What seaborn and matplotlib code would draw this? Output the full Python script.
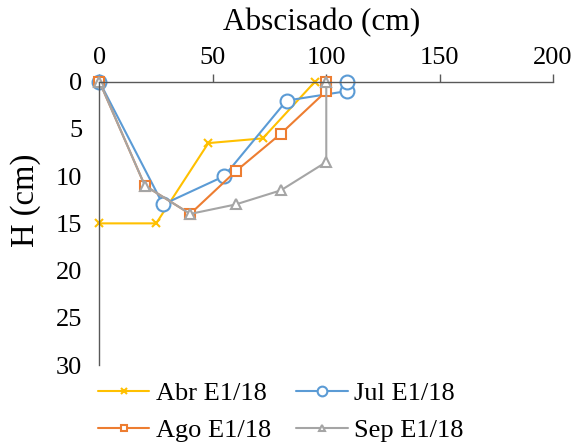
import matplotlib
matplotlib.use("Agg")
import matplotlib.pyplot as plt
from matplotlib.lines import Line2D
import seaborn as sns
import pandas as pd

sns.set_style("white")
plt.rcParams['font.family'] = ['Liberation Serif', 'DejaVu Serif']
plt.rcParams['text.color'] = 'black'
plt.rcParams['axes.labelcolor'] = 'black'

abr_x = [0, 25, 48, 72, 95]
abr_y = [15, 15, 6.5, 6, 0]
jul_x = [0, 28, 55, 82.5, 109, 109]
jul_y = [0, 13, 10, 2, 1, 0]
ago_x = [0, 20, 40, 60, 80, 100, 100]
ago_y = [0, 11, 14, 9.5, 5.5, 1, 0]
sep_x = [0, 20, 40, 60, 80, 100, 100]
sep_y = [0, 11, 14, 13, 11.5, 8.5, 0]

names = ["Abr E1/18", "Jul E1/18", "Ago E1/18", "Sep E1/18"]
colors = ["#FFC000", "#5B9BD5", "#ED7D31", "#A5A5A5"]
markers = ["x", "o", "s", "^"]
msizes = [6, 10, 7, 6.5]
leg_msizes = [5, 7, 5, 4.5]
series = [(abr_x, abr_y), (jul_x, jul_y), (ago_x, ago_y), (sep_x, sep_y)]

fig = plt.figure(figsize=(5.76, 4.47), dpi=100)
ax = fig.add_axes([0.1727, 0.1834, 0.7875, 0.6338])

handles = []
for name, (xs, ys), c, m, ms, lms in zip(names, series, colors, markers, msizes, leg_msizes):
    df = pd.DataFrame({"x": xs, "y": ys})
    mfc = "none" if m == "x" else "white"
    sns.lineplot(data=df, x="x", y="y", sort=False, estimator=None, ax=ax,
                 color=c, marker=m, markersize=ms, linewidth=1.5,
                 markerfacecolor=mfc, markeredgecolor=c, markeredgewidth=1.5,
                 legend=False, clip_on=False)
    handles.append(Line2D([], [], color=c, marker=m, markersize=lms, linewidth=1.5,
                          markerfacecolor=mfc, markeredgecolor=c, markeredgewidth=1.5,
                          label=name))

ax.set_xlim(0, 200)
ax.set_ylim(30, 0)
ax.set_xticks([0, 50, 100, 150, 200])
ax.set_yticks([0, 5, 10, 15, 20, 25, 30])
ax.xaxis.tick_top()
ax.xaxis.set_label_position('top')
ax.set_xlabel("Abscisado (cm)", fontsize=22.5, color='black')
ax.xaxis.set_label_coords(0.489, 1.18)
ax.set_ylabel("H (cm)", fontsize=23.5, color='black')
ax.yaxis.set_label_coords(-0.128, 0.58)
ax.tick_params(axis='both', labelsize=19, direction='out', length=5.5, width=1,
               color='#595959', labelcolor='black')
ax.tick_params(axis='x', pad=3.5)
ax.tick_params(axis='y', pad=7)
for s in ['right', 'bottom']:
    ax.spines[s].set_visible(False)
for s in ['left', 'top']:
    ax.spines[s].set_color('#595959')
    ax.spines[s].set_linewidth(1)

order = [0, 2, 1, 3]
leg = fig.legend([handles[i] for i in order], [names[i] for i in order],
                 loc='upper left', bbox_to_anchor=(0.170, 0.1454),
                 bbox_transform=fig.transFigure,
                 ncol=2, frameon=False, fontsize=19, handlelength=1.95, columnspacing=0.95,
                 labelspacing=0.5, handletextpad=0.25, borderpad=0, borderaxespad=0)
for t in leg.get_texts():
    t.set_color('black')

fig.savefig("out.png", dpi=100)
